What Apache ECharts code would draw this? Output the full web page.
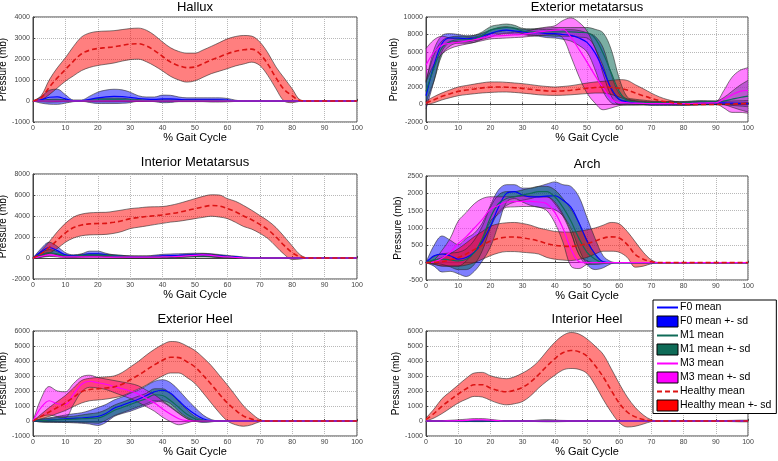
<!DOCTYPE html>
<html><head><meta charset="utf-8">
<script src="https://cdn.jsdelivr.net/npm/echarts@6/dist/echarts.min.js"></script>
<style>html,body{margin:0;padding:0;background:#fff}#c{width:778px;height:461px}</style>
</head><body><div id="c"></div>
<script>
// x positions (% gait cycle)
const gaitX = [0,2.5,5,7.5,10,12.5,15,17.5,20,22.5,25,27.5,30,32.5,35,37.5,40,42.5,45,47.5,50,52.5,55,57.5,60,62.5,65,67.5,70,72.5,75,77.5,80,82.5,85,87.5,90,92.5,95,97.5,100];
const titles = ['Hallux','Exterior metatarsus','Interior Metatarsus','Arch','Exterior Heel','Interior Heel'];
const legendNames = ['F0 mean','F0 mean +- sd','M1 mean','M1 mean +- sd','M3 mean','M3 mean +- sd','Healthy mean','Healthy mean +- sd'];

// ---- Hallux ----
const halluxHealthyMean = [0,150,650,1100,1500,1900,2250,2420,2500,2540, 2580,2650,2710,2730,2620,2400,2120,1850,1680,1590, 1620,1780,1950,2100,2250,2370,2440,2470,2250,1750, 1100,550,250,20,0,0,0,0,0,0,0];
const halluxHealthySd = [0,100,350,480,560,700,800,820,810,790, 770,750,740,740,750,730,690,680,680,690, 660,650,650,680,710,700,680,620,560,540, 520,550,330,30,0,0,0,0,0,0,0];
const halluxF0Mean = [0,50,180,200,100,10,20,80,150,200, 220,210,170,120,90,80,100,100,80,60, 60,60,50,50,40,10,0,0,0,0, 0,0,0,0,0,0,0,0,0,0,0];
const halluxF0Sd = [0,150,330,360,200,40,30,150,270,320, 340,320,250,130,100,110,180,170,110,90, 90,90,100,100,80,30,0,0,0,0, 0,0,0,0,0,0,0,0,0,0,0];
const halluxM1Mean = [0,0,20,30,20,0,0,20,40,50, 50,50,40,30,20,20,20,20,20,20, 20,20,20,20,10,0,0,0,0,0, 0,0,0,0,0,0,0,0,0,0,0];
const halluxM1Sd = [0,30,60,60,40,10,10,50,80,90, 90,80,60,40,30,30,40,40,40,40, 40,40,40,30,20,0,0,0,0,0, 0,0,0,0,0,0,0,0,0,0,0];
const halluxM3Mean = [0,0,0,0,0,0,0,0,0,0, 0,0,0,0,0,0,0,0,0,0, 0,0,0,0,0,0,0,0,0,0, 0,0,0,0,0,0,0,0,0,0,0];
const halluxM3Sd = [0,20,40,40,20,0,0,10,20,20, 20,20,10,10,10,10,10,10,10,10, 10,10,10,10,0,0,0,0,0,0, 0,0,0,0,0,0,0,0,0,0,0];

// ---- Exterior metatarsus ----
const extMetaHealthyMean = [170,550,930,1230,1500,1650,1780,1900,1980,2000, 1980,1920,1840,1740,1630,1560,1520,1560,1630,1740, 1850,1940,1980,1950,1850,1650,1310,1000,700,450, 280,150,50,0,0,0,0,30,60,80,100];
const extMetaHealthySd = [250,350,400,450,500,520,550,580,600,580, 550,540,540,530,520,500,480,500,520,560, 600,630,670,800,990,1100,950,800,600,420, 280,180,100,50,30,30,30,50,80,100,120];
const extMetaF0Mean = [1000,4500,7000,7600,7600,7500,7600,7800,8100,8400, 8500,8400,8300,8200,8200,8100,8100,8000,7900,7600, 7100,5900,4000,1850,600,300,200,150,100,100, 100,100,100,120,150,180,200,180,150,120,100];
const extMetaF0Sd = [1500,1800,900,500,400,350,300,350,400,400, 400,350,300,350,400,450,500,550,650,850, 1100,1900,2500,1650,600,350,250,200,200,200, 200,200,200,200,200,200,200,200,250,300,350];
const extMetaM1Mean = [1500,4200,6500,7200,7400,7400,7500,7900,8500,8700, 8800,8700,8400,8300,8300,8300,8300,8300,8300,8250, 8200,7550,5850,3650,1500,450,300,250,200,200, 200,200,200,250,300,300,300,400,600,800,950];
const extMetaM1Sd = [1200,1500,800,500,400,400,400,400,400,400, 400,350,300,350,400,450,500,500,500,550, 600,1050,2350,2650,1500,400,300,250,200,150, 150,150,150,150,150,120,100,400,900,1400,1800];
const extMetaM3Mean = [4500,6000,6800,7000,7100,7250,7400,7600,7800,7850, 7900,7950,8000,8150,8300,8400,8500,8600,7700,6300, 4850,3300,1900,650,210,200,150,120,100,100, 100,100,100,120,150,180,200,600,1100,1500,1600];
const extMetaM3Sd = [1900,1400,1000,600,400,350,300,300,300,300, 300,300,300,350,400,450,500,1000,2200,3100, 3550,3150,2500,1050,340,250,200,150,150,150, 150,150,150,150,150,150,150,1000,2000,2400,2600];

// ---- Interior Metatarsus ----
const intMetaHealthyMean = [0,400,1000,1700,2400,2900,3150,3250,3280,3300, 3400,3550,3750,3850,3950,4030,4100,4220,4350,4520, 4700,4870,5000,4950,4700,4400,4000,3650,3200,2700, 2000,1200,500,100,0,0,0,0,0,0,0];
const intMetaHealthySd = [0,300,550,800,900,1000,1030,1050,1060,1050, 1050,1020,950,920,900,850,800,800,850,900, 950,1000,1020,1050,950,1000,1000,900,850,850, 900,850,650,200,0,0,0,0,0,0,0];
const intMetaF0Mean = [0,600,1000,700,300,200,250,400,400,300, 200,150,100,100,100,150,200,230,250,280, 300,300,250,200,150,100,50,20,0,0, 0,0,0,0,0,0,0,0,0,0,0];
const intMetaF0Sd = [0,300,500,400,200,100,150,250,250,150, 100,100,100,100,100,120,150,150,150,150, 150,150,150,130,100,80,50,20,0,0, 0,0,0,0,0,0,0,0,0,0,0];
const intMetaM1Mean = [0,300,500,400,200,150,250,300,300,250, 200,150,100,100,100,100,100,120,150,180, 200,200,200,150,100,50,0,0,0,0, 0,0,0,0,0,0,0,0,0,0,0];
const intMetaM1Sd = [0,200,300,200,100,100,100,100,100,100, 100,100,100,80,80,80,80,80,100,100, 100,100,100,100,80,50,0,0,0,0, 0,0,0,0,0,0,0,0,0,0,0];
const intMetaM3Mean = [0,150,300,200,100,100,100,100,100,90, 80,80,80,80,80,80,100,120,150,200, 250,300,250,150,100,50,0,0,0,0, 0,0,0,0,0,0,0,0,0,0,0];
const intMetaM3Sd = [0,100,150,100,80,80,80,80,80,80, 80,80,80,80,80,80,80,80,80,100, 120,120,120,100,60,30,0,0,0,0, 0,0,0,0,0,0,0,0,0,0,0];

// ---- Arch ----
const archHealthyMean = [0,10,25,80,150,250,375,500,625,700, 735,740,715,680,625,550,500,480,470,500, 550,625,705,745,710,525,235,100,25,0, 0,0,0,0,0,0,0,0,0,0,0];
const archHealthySd = [0,60,120,180,250,320,375,400,425,420, 415,420,415,400,375,400,400,405,410,405, 400,375,375,415,410,375,365,200,55,0, 0,0,0,0,0,0,0,0,0,0,0];
const archF0Mean = [0,200,250,200,100,150,300,600,1050,1600, 2000,2050,1950,1900,1900,1920,1930,1800,1600,1150, 625,250,25,0,0,0,0,0,0,0, 0,0,0,0,0,0,0,0,0,0,0];
const archF0Sd = [0,300,520,450,420,550,550,550,600,500, 250,200,200,250,300,350,400,450,600,750, 675,450,175,30,0,0,0,0,0,0, 0,0,0,0,0,0,0,0,0,0,0];
const archM1Mean = [0,80,100,80,50,100,300,700,1300,1700, 1850,1900,1950,2000,2050,2050,1900,1600,1200,700, 300,100,0,0,0,0,0,0,0,0, 0,0,0,0,0,0,0,0,0,0,0];
const archM1Sd = [0,100,150,200,250,300,350,350,300,250, 200,150,150,150,150,150,200,250,350,450, 350,150,30,0,0,0,0,0,0,0, 0,0,0,0,0,0,0,0,0,0,0];
const archM3Mean = [0,20,130,300,550,750,1000,1250,1550,1650, 1750,1760,1770,1770,1750,1700,1450,1000,400,30, 0,0,0,0,0,0,0,0,0,0, 0,0,0,0,0,0,0,0,0,0,0];
const archM3Sd = [0,60,230,400,650,700,700,600,350,250, 150,150,150,150,150,200,300,400,500,200, 50,0,0,0,0,0,0,0,0,0, 0,0,0,0,0,0,0,0,0,0,0];

// ---- Exterior Heel ----
const extHeelHealthyMean = [0,300,600,900,1200,1580,1950,2100,2150,2200, 2275,2450,2750,3050,3400,3750,4050,4250,4225,3950, 3600,3050,2450,1800,1200,725,325,125,25,0, 0,0,0,0,0,0,0,0,0,0,0];
const extHeelHealthySd = [0,150,300,400,500,620,750,750,750,740, 725,780,850,920,1000,1030,1050,1050,1025,1050, 1100,1180,1250,1250,1200,975,675,375,75,0, 0,0,0,0,0,0,0,0,0,0,0];
const extHeelF0Mean = [0,30,60,100,150,180,200,250,300,500, 850,1050,1250,1450,1700,1950,2050,1850,1350,850, 450,150,20,0,0,0,0,0,0,0, 0,0,0,0,0,0,0,0,0,0,0];
const extHeelF0Sd = [0,100,150,200,250,300,350,450,600,600, 550,550,600,600,650,700,700,700,700,600, 450,250,80,0,0,0,0,0,0,0, 0,0,0,0,0,0,0,0,0,0,0];
const extHeelM1Mean = [0,20,50,80,100,120,150,180,200,400, 700,900,1100,1300,1500,1750,1700,1350,900,450, 150,30,0,0,0,0,0,0,0,0, 0,0,0,0,0,0,0,0,0,0,0];
const extHeelM1Sd = [0,80,120,150,180,200,250,300,350,350, 350,350,350,350,350,400,450,450,400,300, 150,50,0,0,0,0,0,0,0,0, 0,0,0,0,0,0,0,0,0,0,0];
const extHeelM3Mean = [0,900,1350,1150,1100,1800,2450,2650,2550,2450, 2300,2150,2000,1800,1500,1200,800,450,150,20, 0,0,0,0,0,0,0,0,0,0, 0,0,0,0,0,0,0,0,0,0,0];
const extHeelM3Sd = [0,600,950,850,850,700,500,400,350,350, 400,450,500,550,550,550,550,500,400,150, 0,0,0,0,0,0,0,0,0,0, 0,0,0,0,0,0,0,0,0,0,0];

// ---- Interior Heel ----
const intHeelHealthyMean = [100,500,1000,1400,1800,2150,2420,2420,2200,2030, 1950,2050,2250,2600,3100,3650,4150,4550,4700,4620, 4320,3700,2950,2050,1200,600,275,100,20,0, 0,0,0,0,0,0,0,0,0,0,0];
const intHeelHealthySd = [100,300,500,550,600,700,780,820,820,850, 870,900,950,920,900,1000,1100,1150,1200,1180, 1150,1300,1500,1450,1300,1000,625,300,60,0, 0,0,0,0,0,0,0,0,0,0,0];
const intHeelF0Mean = [0,0,0,0,0,0,0,0,0,0, 0,0,0,0,0,0,0,0,0,0, 0,0,0,0,0,0,0,0,0,0, 0,0,0,0,0,0,0,0,0,0,0];
const intHeelF0Sd = [0,20,30,30,30,30,40,40,30,30, 30,30,30,30,40,50,50,40,30,30, 30,20,20,20,20,20,20,20,20,20, 20,20,20,20,20,20,20,20,30,40,40];
const intHeelM1Mean = [0,0,0,0,0,0,0,0,0,0, 0,0,0,0,20,30,20,0,0,0, 0,0,0,0,0,0,0,0,0,0, 0,0,0,0,0,0,0,0,0,0,0];
const intHeelM1Sd = [0,20,20,20,20,20,20,20,20,20, 20,20,20,20,40,50,40,20,20,20, 20,20,20,20,20,20,20,20,20,20, 20,20,20,20,20,20,20,30,40,50,50];
const intHeelM3Mean = [0,0,0,10,20,40,70,80,50,20, 0,0,0,0,0,0,0,0,0,0, 0,0,0,0,0,0,0,0,0,0, 0,0,0,0,0,0,0,0,0,0,0];
const intHeelM3Sd = [0,10,20,40,60,80,90,80,60,30, 10,10,10,10,10,10,10,10,10,10, 10,10,10,10,10,10,10,10,10,10, 10,10,10,10,10,10,10,10,10,10,10];

// ---- layout / style (not data) ----
const FONT = 'Liberation Sans, Arial, Helvetica, sans-serif';
const panels = [
  {grid:{left:33,top:17,width:324,height:105}, y:[-1000,4000,1000], tTop:1, nGap:15,
   d:{F0:[halluxF0Mean,halluxF0Sd],M1:[halluxM1Mean,halluxM1Sd],M3:[halluxM3Mean,halluxM3Sd],Healthy:[halluxHealthyMean,halluxHealthySd]}},
  {grid:{left:426,top:17,width:322,height:105}, y:[-2000,10000,2000], tTop:1, nGap:19,
   d:{F0:[extMetaF0Mean,extMetaF0Sd],M1:[extMetaM1Mean,extMetaM1Sd],M3:[extMetaM3Mean,extMetaM3Sd],Healthy:[extMetaHealthyMean,extMetaHealthySd]}},
  {grid:{left:33,top:174,width:324,height:105}, y:[-2000,8000,2000], tTop:156, nGap:16,
   d:{F0:[intMetaF0Mean,intMetaF0Sd],M1:[intMetaM1Mean,intMetaM1Sd],M3:[intMetaM3Mean,intMetaM3Sd],Healthy:[intMetaHealthyMean,intMetaHealthySd]}},
  {grid:{left:426,top:176,width:322,height:104}, y:[-500,2500,500], tTop:158, nGap:19,
   d:{F0:[archF0Mean,archF0Sd],M1:[archM1Mean,archM1Sd],M3:[archM3Mean,archM3Sd],Healthy:[archHealthyMean,archHealthySd]}},
  {grid:{left:33,top:331,width:324,height:105}, y:[-1000,6000,1000], tTop:313, nGap:16,
   d:{F0:[extHeelF0Mean,extHeelF0Sd],M1:[extHeelM1Mean,extHeelM1Sd],M3:[extHeelM3Mean,extHeelM3Sd],Healthy:[extHeelHealthyMean,extHeelHealthySd]}},
  {grid:{left:426,top:331,width:322,height:105}, y:[-1000,6000,1000], tTop:313, nGap:18,
   d:{F0:[intHeelF0Mean,intHeelF0Sd],M1:[intHeelM1Mean,intHeelM1Sd],M3:[intHeelM3Mean,intHeelM3Sd],Healthy:[intHeelHealthyMean,intHeelHealthySd]}}
];
const groups = [
  {key:'F0', line:'#0000ff', fill:'rgba(0,0,255,0.5)', solid:'#0000ff'},
  {key:'M1', line:'#0f6b57', fill:'rgba(15,107,87,0.55)', solid:'#0f6b57'},
  {key:'M3', line:'#ff00ff', fill:'rgba(255,0,255,0.5)', solid:'#ff00ff'},
  {key:'Healthy', line:'#dd1414', fill:'rgba(255,0,0,0.5)', solid:'#ff0000', dashed:true}
];

const grids=[], xAxes=[], yAxes=[], series=[], titleList=[];
const SM = 0.35;
const gridLine = {show:true, interval:3, lineStyle:{type:'dotted', color:'#b8b8b8', width:1}};
panels.forEach((p,i)=>{
  grids.push(Object.assign({show:true, borderColor:'#444', borderWidth:1, backgroundColor:'#fff', containLabel:false, outerBoundsMode:'none'}, p.grid));
  titleList.push({text:titles[i], left:p.grid.left+p.grid.width/2, top:p.tTop, textAlign:'center', padding:0,
    textStyle:{fontSize:13, fontWeight:'normal', color:'#000', fontFamily:FONT}});
  xAxes.push({type:'category', gridIndex:i, data:gaitX.map(String), boundaryGap:false,
    name:'% Gait Cycle', nameLocation:'middle', nameGap:10,
    nameTextStyle:{fontSize:11, color:'#000', fontFamily:FONT},
    axisLine:{show:true, lineStyle:{color:'#444'}},
    axisTick:{show:true, inside:true, length:2, interval:3, lineStyle:{color:'#444'}},
    axisLabel:{interval:3, fontSize:7, color:'#444', margin:3, fontFamily:FONT},
    splitLine:gridLine});
  yAxes.push({type:'value', gridIndex:i, min:p.y[0], max:p.y[1], interval:p.y[2], name:'Pressure (mb)', nameLocation:'middle', nameGap:p.nGap,
    nameTextStyle:{fontSize:10, color:'#000', fontFamily:FONT},
    axisLine:{show:true, lineStyle:{color:'#444'}}, axisTick:{show:true, inside:true, length:2, lineStyle:{color:'#444'}},
    axisLabel:{fontSize:7, color:'#444', margin:3, fontFamily:FONT, formatter:v=>String(v)},
    splitLine:{show:true, lineStyle:{type:'dotted', color:'#b8b8b8', width:1}}});
  groups.forEach(g=>{
    const mean = p.d[g.key][0], sd = p.d[g.key][1];
    const st = 'p'+i+g.key;
    series.push({type:'line', name:g.key+' lower', xAxisIndex:i, yAxisIndex:i, stack:st, stackStrategy:'all',
      smooth:SM, symbol:'none', silent:true, animation:false,
      lineStyle:{color:'#2a2a2a', width:0.6},
      data: mean.map((m,j)=>m-sd[j])});
    series.push({type:'line', name:g.key+' mean +- sd', xAxisIndex:i, yAxisIndex:i, stack:st, stackStrategy:'all',
      smooth:SM, symbol:'none', silent:true, animation:false,
      itemStyle:{color:g.solid},
      lineStyle:{color:'#2a2a2a', width:0.6},
      areaStyle:{color:g.fill, opacity:1},
      data: sd.map(s=>2*s)});
  });
  groups.forEach(g=>{
    const mean = p.d[g.key][0];
    series.push({type:'line', name:g.key+' mean', xAxisIndex:i, yAxisIndex:i,
      smooth:SM, symbol:'none', silent:true, animation:false, z:3,
      itemStyle:{color:g.line},
      lineStyle:{color:g.line, width:g.dashed?1.6:1.2, type:g.dashed?[5,3]:'solid'},
      data: mean.slice()});
  });
});

const legendData = legendNames.map((n,k)=>{
  const g = groups[Math.floor(k/2)];
  if (k%2===0) return {name:n, itemStyle:{opacity:0}};
  return {name:n, icon:'rect', itemStyle:{color:g.solid, borderColor:'#000', borderWidth:1, opacity:1}};
});

const chart = echarts.init(document.getElementById('c'), null, {renderer:'canvas'});
chart.setOption({
  animation:false,
  backgroundColor:'#fff',
  title:titleList,
  grid:grids, xAxis:xAxes, yAxis:yAxes, series:series,
  legend:{show:true, orient:'vertical', left:653, top:300, itemWidth:21, itemHeight:11, itemGap:2.5,
    padding:[2,5,2,3], backgroundColor:'#fff', borderColor:'#000', borderWidth:1, z:20, selectedMode:false,
    textStyle:{fontSize:10.5, lineHeight:11, color:'#000', fontFamily:FONT, padding:[0,0,0,-3]}, data:legendData}
});
</script></body></html>
